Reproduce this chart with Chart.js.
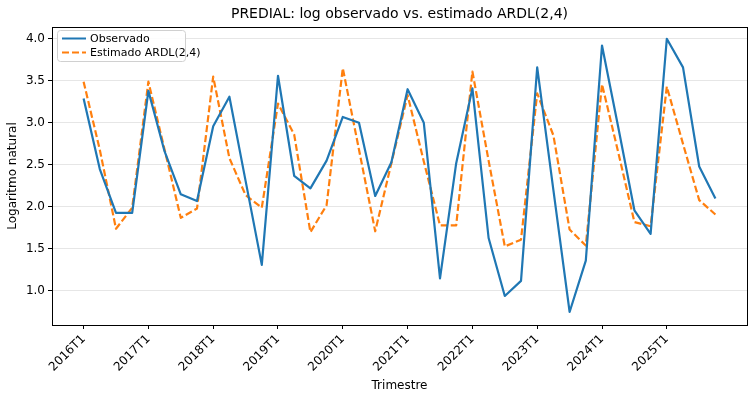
<!DOCTYPE html>
<html>
<head>
<meta charset="utf-8">
<script src="https://cdn.jsdelivr.net/npm/chart.js@4"></script>
<style>
  html, body { margin: 0; padding: 0; background: #fff; }
  #wrap { width: 756px; height: 399px; }
</style>
</head>
<body>
<div id="wrap"><canvas id="myChart" width="756" height="399"></canvas></div>
<script>
// quarters 2016T1 .. 2025T4
const quarters = []
for (let y = 2016; y <= 2025; y++) {
  for (let q = 1; q <= 4; q++) quarters.push(y + 'T' + q)
}

const observado = [
  3.29, 2.45, 1.93, 1.93, 3.38, 2.66, 2.15, 2.07,
  2.96, 3.31, 2.31, 1.31, 3.56, 2.37, 2.22, 2.55,
  3.07, 3.00, 2.13, 2.53, 3.40, 3.00, 1.15, 2.52,
  3.41, 1.63, 0.94, 1.12, 3.66, 2.20, 0.75, 1.36,
  3.92, 2.95, 1.96, 1.68, 4.00, 3.66, 2.48, 2.10
]

const estimado = [
  3.49, 2.68, 1.74, 1.99, 3.49, 2.68, 1.87, 1.98,
  3.55, 2.58, 2.14, 1.99, 3.23, 2.86, 1.70, 2.02,
  3.65, 2.68, 1.71, 2.52, 3.33, 2.54, 1.78, 1.78,
  3.61, 2.55, 1.53, 1.61, 3.35, 2.85, 1.73, 1.54,
  3.46, 2.65, 1.82, 1.77, 3.43, 2.75, 2.08, 1.91
]

const xTickIdx = [0, 4, 8, 12, 16, 20, 24, 28, 32, 36]
const yTicks = [1.0, 1.5, 2.0, 2.5, 3.0, 3.5, 4.0]

const titleText = 'PREDIAL: log observado vs. estimado ARDL(2,4)'

const toPoints = (arr) => arr.map((v, i) => ({ x: i, y: v }))

const FONT = 'DejaVu Sans'

// full black box round the plot, title over the axes, legend inside upper left
const framePlugin = {
  id: 'frame',
  afterDraw(chart) {
    const { ctx, chartArea: a } = chart
    ctx.save()
    ctx.strokeStyle = '#000'
    ctx.lineWidth = 1
    ctx.strokeRect(Math.round(a.left) + 0.5, Math.round(a.top) + 0.5,
      Math.round(a.right - a.left), Math.round(a.bottom - a.top))

    // title, centred on the axes like matplotlib
    ctx.fillStyle = '#000'
    ctx.font = '14px ' + FONT
    ctx.textAlign = 'center'
    ctx.textBaseline = 'middle'
    ctx.fillText(titleText, (a.left + a.right) / 2, a.top - 13)
    ctx.textAlign = 'left'

    // legend
    const bx = a.left + 5, by = a.top + 3, bw = 128, bh = 31
    ctx.fillStyle = 'rgba(255,255,255,0.85)'
    ctx.strokeStyle = '#d0d0d0'
    ctx.beginPath()
    ctx.roundRect(bx + 0.5, by + 0.5, bw, bh, 3)
    ctx.fill()
    ctx.stroke()
    ctx.font = '11px ' + FONT
    chart.data.datasets.forEach((ds, k) => {
      const ly = by + 8.5 + k * 14
      ctx.strokeStyle = ds.borderColor
      ctx.lineWidth = 2
      ctx.setLineDash(ds.borderDash || [])
      ctx.beginPath()
      ctx.moveTo(bx + 5, ly)
      ctx.lineTo(bx + 29, ly)
      ctx.stroke()
      ctx.setLineDash([])
      ctx.fillStyle = '#000'
      ctx.fillText(ds.label, bx + 33, ly + 1)
    })
    ctx.restore()
  }
}

new Chart(document.getElementById('myChart').getContext('2d'), {
  type: 'line',
  data: {
    datasets: [{
      label: 'Observado',
      data: toPoints(observado),
      borderColor: '#1f77b4',
      borderWidth: 2.2,
      borderJoinStyle: 'round',
      pointRadius: 0,
      fill: false,
      tension: 0
    },
    {
      label: 'Estimado ARDL(2,4)',
      data: toPoints(estimado),
      borderColor: '#ff7f0e',
      borderWidth: 2.2,
      borderDash: [7, 3],
      borderJoinStyle: 'round',
      pointRadius: 0,
      fill: false,
      tension: 0
    }]
  },
  plugins: [framePlugin],
  options: {
    responsive: false,
    animation: false,
    events: [],
    layout: { padding: { right: 9, left: 0, top: 27, bottom: 0 } },
    scales: {
      x: {
        type: 'linear',
        min: -1.95,
        max: 40.95,
        afterBuildTicks: (s) => { s.ticks = xTickIdx.map(v => ({ value: v })) },
        afterFit: (s) => { s.height = 74 },
        ticks: {
          autoSkip: false,
          minRotation: 45,
          maxRotation: 45,
          color: '#000',
          font: { family: FONT, size: 12 },
          callback: (v) => quarters[v]
        },
        grid: { drawOnChartArea: false, tickLength: 4, tickColor: '#000' },
        border: { color: '#000' },
        title: {
          display: true,
          text: 'Trimestre',
          color: '#000',
          font: { family: FONT, size: 12 },
          padding: { top: 0, bottom: 6 }
        }
      },
      y: {
        min: 0.595,
        max: 4.14,
        afterBuildTicks: (s) => { s.ticks = yTicks.map(v => ({ value: v })) },
        afterFit: (s) => { s.width = 52 },
        ticks: {
          color: '#000',
          padding: 3,
          font: { family: FONT, size: 12 },
          callback: (v) => v.toFixed(1)
        },
        grid: { color: '#e6e6e6', tickLength: 4, tickColor: '#000' },
        border: { color: '#000' },
        title: {
          display: true,
          text: 'Logaritmo natural',
          color: '#000',
          font: { family: FONT, size: 12 },
          padding: { top: 6, bottom: 0 }
        }
      }
    },
    plugins: {
      legend: { display: false },
      tooltip: { enabled: false },
      title: { display: false }
    }
  }
});
</script>
</body>
</html>
